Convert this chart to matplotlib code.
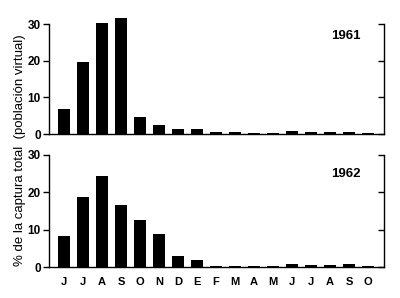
import matplotlib
matplotlib.use('Agg')
import matplotlib.pyplot as plt

meses = ['J', 'J', 'A', 'S', 'O', 'N', 'D', 'E', 'F', 'M', 'A', 'M', 'J', 'J', 'A', 'S', 'O']
pct_1961 = [6.8, 19.6, 30.2, 31.6, 4.6, 2.4, 1.4, 1.4, 0.7, 0.6, 0.3, 0.3, 0.8, 0.6, 0.6, 0.6, 0.3]
pct_1962 = [8.3, 18.8, 24.4, 16.5, 12.6, 8.8, 3.0, 1.9, 0.3, 0.4, 0.2, 0.4, 0.7, 0.5, 0.5, 0.8, 0.3]
anios = ['1961', '1962']

plt.rcParams['font.family'] = ['Liberation Sans', 'DejaVu Sans']

fig = plt.figure(figsize=(4, 2.98), dpi=100)
ax1 = fig.add_axes([0.1225, 0.550, 0.8375, 0.369])
ax2 = fig.add_axes([0.1225, 0.104, 0.8375, 0.376])

x = list(range(len(meses)))
for ax, datos, anio, ypos in [(ax1, pct_1961, anios[0], 0.89), (ax2, pct_1962, anios[1], 0.83)]:
    ax.bar(x, datos, width=0.65, color='black', clip_on=False)
    ax.set_xlim(-0.8, 16.84)
    ax.set_ylim(0, 30)
    ax.set_yticks([0, 10, 20, 30])
    ax.spines['top'].set_visible(False)
    for s in ['left', 'right', 'bottom']:
        ax.spines[s].set_linewidth(1)
    ax.tick_params(axis='y', left=True, right=False, direction='out', length=4, width=1,
                   labelsize=8.5, pad=2)
    for t in ax.get_yticklabels():
        t.set_fontweight('bold')
    ax.tick_params(axis='x', bottom=False)
    ax.text(0.93, ypos, anio, transform=ax.transAxes, ha='right', va='center',
            fontsize=9.5, fontweight='bold')
    # inward ticks on the right spine
    sec = ax.secondary_yaxis('right')
    sec.set_yticks([0, 10, 20, 30])
    sec.tick_params(direction='in', length=4, width=1, labelright=False)
    sec.spines['right'].set_visible(False)

ax1.set_xticks([])
ax2.set_xticks(x)
ax2.set_xticklabels(meses, fontsize=8, fontweight='bold')
ax2.tick_params(axis='x', pad=4)

fig.text(0.05, 0.497, '% de la captura total  (población virtual)', rotation=90,
         ha='center', va='center', fontsize=9.5)

fig.savefig('out.png', dpi=100)
